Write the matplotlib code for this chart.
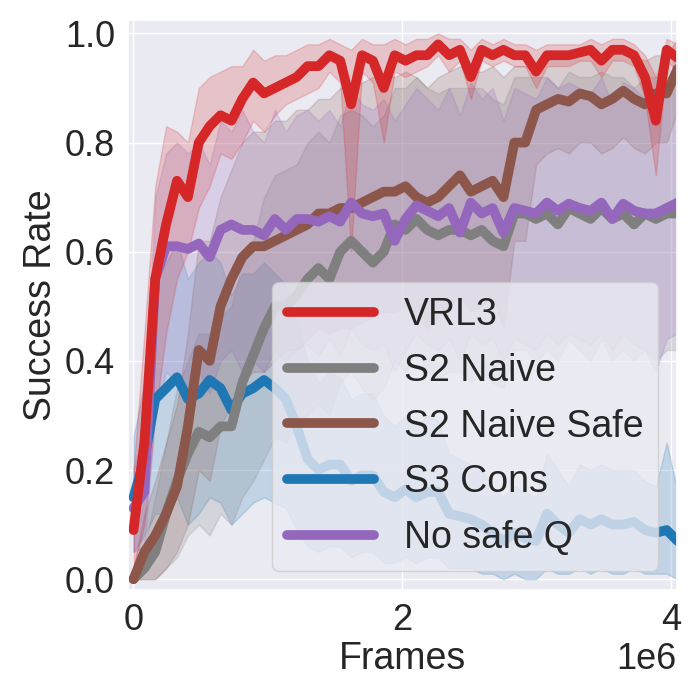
import numpy as np
import matplotlib
matplotlib.use('Agg')
import matplotlib.pyplot as plt
import seaborn as sns

# evaluation every 81k frames
frames = np.arange(51) * 81000

vrl3 = [0.09, 0.25, 0.55, 0.65, 0.73, 0.70, 0.80, 0.83, 0.85, 0.84, 0.88, 0.91, 0.89, 0.90, 0.91, 0.92, 0.94,
        0.94, 0.96, 0.95, 0.87, 0.96, 0.95, 0.90, 0.96, 0.95, 0.96, 0.96, 0.98, 0.96, 0.97, 0.92, 0.97, 0.96,
        0.97, 0.96, 0.96, 0.93, 0.96, 0.96, 0.96, 0.965, 0.97, 0.95, 0.97, 0.97, 0.96, 0.92, 0.84, 0.97, 0.955]
vrl3_lo = [0.02, 0.10, 0.30, 0.45, 0.55, 0.60, 0.68, 0.72, 0.78, 0.77, 0.80, 0.84, 0.82, 0.85, 0.87, 0.88, 0.89,
           0.90, 0.93, 0.91, 0.60, 0.93, 0.91, 0.80, 0.93, 0.92, 0.93, 0.94, 0.96, 0.93, 0.95, 0.88, 0.95, 0.94,
           0.95, 0.94, 0.94, 0.90, 0.94, 0.94, 0.94, 0.95, 0.95, 0.92, 0.95, 0.95, 0.94, 0.88, 0.74, 0.95, 0.93]
vrl3_hi = [0.20, 0.45, 0.72, 0.83, 0.82, 0.80, 0.90, 0.92, 0.93, 0.94, 0.94, 0.97, 0.95, 0.96, 0.96, 0.97, 0.98,
           0.98, 0.99, 0.98, 0.97, 0.99, 0.98, 0.98, 0.99, 0.98, 0.99, 0.99, 1.00, 0.99, 0.99, 0.97, 0.99, 0.98,
           0.99, 0.98, 0.98, 0.97, 0.98, 0.98, 0.98, 0.98, 0.99, 0.98, 0.99, 0.99, 0.98, 0.96, 0.92, 0.99, 0.98]

s2_naive = [0.0, 0.02, 0.05, 0.12, 0.18, 0.23, 0.27, 0.26, 0.28, 0.28, 0.36, 0.41, 0.46, 0.50, 0.50, 0.52, 0.55,
            0.57, 0.55, 0.60, 0.62, 0.60, 0.58, 0.60, 0.65, 0.64, 0.66, 0.64, 0.63, 0.64, 0.64, 0.63, 0.64, 0.62,
            0.61, 0.67, 0.67, 0.66, 0.67, 0.65, 0.68, 0.67, 0.66, 0.68, 0.66, 0.67, 0.65, 0.67, 0.66, 0.67, 0.67]
s2_naive_lo = [0.0, 0.0, 0.0, 0.02, 0.04, 0.08, 0.10, 0.08, 0.12, 0.10, 0.15, 0.18, 0.22, 0.26, 0.25, 0.28, 0.30,
               0.32, 0.30, 0.36, 0.38, 0.35, 0.33, 0.35, 0.40, 0.38, 0.42, 0.38, 0.37, 0.38, 0.38, 0.36, 0.38,
               0.36, 0.35, 0.42, 0.42, 0.40, 0.42, 0.40, 0.44, 0.42, 0.40, 0.44, 0.40, 0.42, 0.40, 0.42, 0.40,
               0.42, 0.42]
s2_naive_hi = [0.02, 0.06, 0.15, 0.25, 0.35, 0.40, 0.45, 0.45, 0.48, 0.50, 0.58, 0.62, 0.70, 0.74, 0.75, 0.76,
               0.80, 0.82, 0.80, 0.85, 0.86, 0.85, 0.83, 0.85, 0.90, 0.90, 0.92, 0.90, 0.89, 0.90, 0.90, 0.90,
               0.90, 0.88, 0.87, 0.92, 0.92, 0.92, 0.92, 0.90, 0.93, 0.92, 0.92, 0.93, 0.92, 0.92, 0.90, 0.92,
               0.92, 0.92, 0.92]

s2_safe = [0.0, 0.05, 0.08, 0.12, 0.17, 0.28, 0.42, 0.40, 0.50, 0.55, 0.59, 0.61, 0.61, 0.62, 0.63, 0.64, 0.65,
           0.67, 0.67, 0.68, 0.68, 0.69, 0.70, 0.71, 0.71, 0.72, 0.70, 0.69, 0.70, 0.72, 0.74, 0.71, 0.72, 0.73,
           0.70, 0.80, 0.80, 0.86, 0.87, 0.88, 0.875, 0.89, 0.885, 0.87, 0.88, 0.895, 0.88, 0.87, 0.89, 0.89, 0.935]
s2_safe_lo = [0.0, 0.0, 0.0, 0.02, 0.05, 0.10, 0.20, 0.18, 0.28, 0.32, 0.36, 0.38, 0.38, 0.40, 0.42, 0.42, 0.44,
              0.46, 0.45, 0.46, 0.46, 0.47, 0.48, 0.49, 0.49, 0.50, 0.48, 0.46, 0.48, 0.50, 0.52, 0.49, 0.50, 0.52,
              0.46, 0.62, 0.62, 0.76, 0.78, 0.79, 0.78, 0.80, 0.80, 0.78, 0.79, 0.81, 0.79, 0.78, 0.80, 0.80, 0.86]
s2_safe_hi = [0.02, 0.12, 0.18, 0.25, 0.32, 0.45, 0.62, 0.62, 0.70, 0.75, 0.80, 0.82, 0.82, 0.84, 0.84, 0.86,
              0.86, 0.88, 0.88, 0.90, 0.90, 0.91, 0.92, 0.92, 0.92, 0.93, 0.92, 0.90, 0.92, 0.93, 0.94, 0.93,
              0.93, 0.94, 0.92, 0.94, 0.94, 0.94, 0.95, 0.96, 0.96, 0.97, 0.96, 0.95, 0.96, 0.97, 0.96, 0.95,
              0.96, 0.96, 0.99]

s3_cons = [0.15, 0.22, 0.33, 0.35, 0.37, 0.33, 0.34, 0.365, 0.35, 0.31, 0.34, 0.35, 0.365, 0.35, 0.33, 0.28,
           0.22, 0.20, 0.21, 0.21, 0.18, 0.19, 0.19, 0.16, 0.15, 0.165, 0.15, 0.16, 0.16, 0.12, 0.115, 0.11, 0.10,
           0.085, 0.07, 0.085, 0.075, 0.07, 0.12, 0.10, 0.085, 0.11, 0.10, 0.11, 0.10, 0.10, 0.105, 0.09, 0.085,
           0.09, 0.07]
s3_cons_lo = [0.05, 0.08, 0.12, 0.12, 0.15, 0.10, 0.12, 0.15, 0.14, 0.10, 0.12, 0.14, 0.15, 0.14, 0.13, 0.09,
              0.06, 0.05, 0.06, 0.06, 0.04, 0.05, 0.05, 0.03, 0.03, 0.04, 0.03, 0.04, 0.04, 0.02, 0.02, 0.02,
              0.01, 0.01, 0.0, 0.01, 0.0, 0.0, 0.02, 0.01, 0.01, 0.02, 0.01, 0.02, 0.01, 0.01, 0.02, 0.01, 0.01,
              0.01, 0.0]
s3_cons_hi = [0.26, 0.36, 0.55, 0.58, 0.62, 0.55, 0.58, 0.60, 0.58, 0.52, 0.56, 0.56, 0.58, 0.56, 0.54, 0.47,
              0.40, 0.36, 0.38, 0.37, 0.33, 0.34, 0.34, 0.30, 0.28, 0.30, 0.28, 0.30, 0.29, 0.23, 0.22, 0.21,
              0.20, 0.17, 0.15, 0.17, 0.16, 0.15, 0.23, 0.20, 0.17, 0.21, 0.20, 0.21, 0.20, 0.20, 0.20, 0.18,
              0.17, 0.25, 0.16]

no_safe_q = [0.13, 0.16, 0.55, 0.61, 0.61, 0.605, 0.615, 0.59, 0.64, 0.65, 0.64, 0.64, 0.63, 0.66, 0.64, 0.66,
             0.66, 0.655, 0.665, 0.655, 0.69, 0.67, 0.665, 0.67, 0.62, 0.66, 0.685, 0.675, 0.665, 0.68, 0.635,
             0.69, 0.67, 0.68, 0.635, 0.68, 0.675, 0.67, 0.69, 0.675, 0.688, 0.68, 0.675, 0.69, 0.66, 0.688,
             0.675, 0.67, 0.67, 0.68, 0.69]
no_safe_q_lo = [0.05, 0.06, 0.30, 0.38, 0.36, 0.35, 0.38, 0.34, 0.40, 0.42, 0.38, 0.40, 0.38, 0.42, 0.40, 0.42,
                0.43, 0.41, 0.44, 0.41, 0.46, 0.43, 0.42, 0.43, 0.38, 0.42, 0.45, 0.43, 0.42, 0.44, 0.40, 0.45,
                0.43, 0.44, 0.40, 0.44, 0.43, 0.42, 0.45, 0.43, 0.45, 0.44, 0.43, 0.45, 0.42, 0.45, 0.43, 0.42,
                0.38, 0.44, 0.45]
no_safe_q_hi = [0.20, 0.28, 0.70, 0.78, 0.80, 0.78, 0.80, 0.76, 0.84, 0.82, 0.86, 0.82, 0.80, 0.86, 0.82, 0.85,
                0.86, 0.84, 0.86, 0.83, 0.90, 0.87, 0.86, 0.88, 0.84, 0.87, 0.90, 0.88, 0.86, 0.90, 0.85, 0.91,
                0.88, 0.90, 0.84, 0.90, 0.89, 0.88, 0.92, 0.90, 0.91, 0.90, 0.89, 0.92, 0.87, 0.91, 0.90, 0.88,
                0.88, 0.90, 0.92]

labels = ['VRL3', 'S2 Naive', 'S2 Naive Safe', 'S3 Cons', 'No safe Q']
colors = ['#d62728', '#7f7f7f', '#8c564b', '#1f77b4', '#9467bd']
means = [vrl3, s2_naive, s2_safe, s3_cons, no_safe_q]
lows = [vrl3_lo, s2_naive_lo, s2_safe_lo, s3_cons_lo, no_safe_q_lo]
highs = [vrl3_hi, s2_naive_hi, s2_safe_hi, s3_cons_hi, no_safe_q_hi]

sns.set_theme(style='darkgrid')
plt.rcParams['font.family'] = ['Liberation Sans', 'DejaVu Sans']

fig = plt.figure(figsize=(7, 7), dpi=100)
ax = fig.add_axes([0.183, 0.157, 0.784, 0.814])

# draw so that VRL3 ends up on top
handles = {}
for i in [3, 1, 2, 4, 0]:
    ax.fill_between(frames, lows[i], highs[i], color=colors[i], alpha=0.2)
    line, = ax.plot(frames, means[i], color=colors[i], lw=7, label=labels[i])
    handles[i] = line

ax.set_xlim(-0.04e6, 4.045e6)
ax.set_ylim(-0.02, 1.024)
ax.set_xticks([0, 2e6, 4e6])
ax.set_yticks([0.0, 0.2, 0.4, 0.6, 0.8, 1.0])
ax.tick_params(labelsize=26)
ax.xaxis.get_offset_text().set_fontsize(26)
ax.set_xlabel('Frames', fontsize=27, labelpad=2)
ax.set_ylabel('Success Rate', fontsize=27)

ax.legend([handles[i] for i in range(5)], labels, loc='lower right', fontsize=27,
          handlelength=2.3, handletextpad=0.8, borderpad=0.4, labelspacing=0.53)

fig.savefig('out.png', dpi=100)
